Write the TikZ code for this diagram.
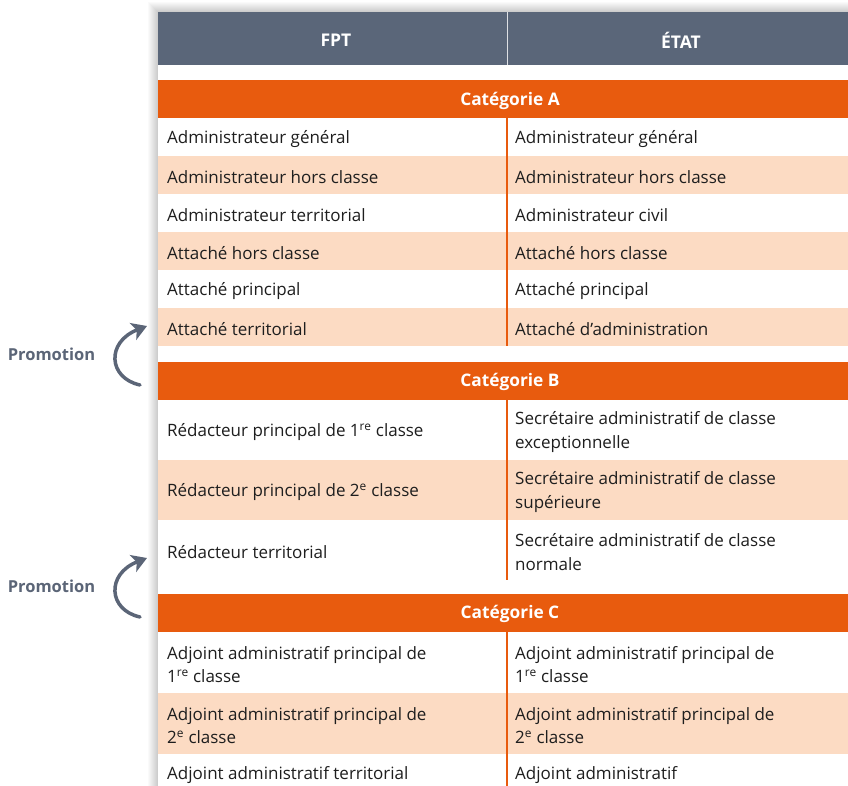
\documentclass[tikz,border=0pt]{standalone}
\usepackage{fontspec}
\setmainfont{Open Sans}
\usetikzlibrary{arrows.meta}

\definecolor{headblue}{HTML}{5A6679}
\definecolor{catorange}{HTML}{E85B0E}
\definecolor{peach}{HTML}{FCDBC3}
\definecolor{promogray}{HTML}{5B6577}
\definecolor{rowgray}{HTML}{E4DCD5}
\definecolor{textdark}{HTML}{1E1E1E}

\tikzset{
  head/.style={text=white, font=\bfseries\fontsize{17.5}{20}\selectfont},
  cat/.style={text=white, font=\bfseries\fontsize{17.3}{20}\selectfont},
  cell/.style={anchor=west, inner sep=0pt, align=left, text=textdark,
    font=\fontsize{17}{23.5}\selectfont},
  promo/.style={text=promogray, font=\bfseries\fontsize{16.5}{19}\selectfont},
  promoarrow/.style={draw=promogray, line width=3.5pt, line cap=round,
    -{Stealth[length=15pt, width=18pt, inset=4pt]}},
  divline/.style={draw=catorange, line width=1.2pt},
  rowline/.style={draw=rowgray, line width=0.8pt}
}

\begin{document}
\begin{tikzpicture}[x=1pt, y=-1pt]
  \useasboundingbox (0,0) rectangle (848,786);
  \clip (0,0) rectangle (848,786);
  \fill[white] (0,0) rectangle (848,786);

  % soft shadow round the table
  \foreach \i in {1,...,10}
    \fill[black, opacity=0.018] (158-\i,12-\i) rectangle (870,800);
  \fill[white] (158,12) rectangle (870,800);

  % header
  \fill[headblue] (158,12) rectangle (870,65);
  \draw[white!80!headblue, line width=1pt] (507,12) -- (507,65);
  \node[head] (fpt) at (336,40) {FPT};
  \node[head] (etat) at (681,40) {ÉTAT};

  % category bars
  \fill[catorange] (158,80) rectangle (870,118);
  \node[cat] (catA) at (510,101) {Catégorie A};
  \fill[catorange] (158,362) rectangle (870,400);
  \node[cat] (catB) at (510,382) {Catégorie B};
  \fill[catorange] (158,594) rectangle (870,632);
  \node[cat] (catC) at (510,614) {Catégorie C};

  % rows
  \foreach \name/\top/\bot/\col/\lft/\rgt in {
      a1/118/156/white/{Administrateur général}/{Administrateur général},
      a2/156/194/peach/{Administrateur hors classe}/{Administrateur hors classe},
      a3/194/232/white/{Administrateur territorial}/{Administrateur civil},
      a4/232/270/peach/{Attaché hors classe}/{Attaché hors classe},
      a5/270/308/white/{Attaché principal}/{Attaché principal},
      a6/308/346/peach/{Attaché territorial}/{Attaché d’administration},
      b1/400/460/white/{Rédacteur principal de 1\textsuperscript{re} classe}/{Secrétaire administratif de classe\\exceptionnelle},
      b2/460/520/peach/{Rédacteur principal de 2\textsuperscript{e} classe}/{Secrétaire administratif de classe\\supérieure},
      b3/520/580/white/{Rédacteur territorial}/{Secrétaire administratif de classe\\normale},
      c1/632/693/white/{Adjoint administratif principal de\\1\textsuperscript{re} classe}/{Adjoint administratif principal de\\1\textsuperscript{re} classe},
      c2/693/754/peach/{Adjoint administratif principal de\\2\textsuperscript{e} classe}/{Adjoint administratif principal de\\2\textsuperscript{e} classe},
      c3/754/792/white/{Adjoint administratif territorial}/{Adjoint administratif}}
  {
    \fill[\col] (158,\top) rectangle (870,\bot);
    \draw[rowline] (158,\bot) -- (870,\bot);
    \node[cell] (\name l) at (167,{(\top+\bot)/2+2}) {\lft};
    \node[cell] (\name r) at (515,{(\top+\bot)/2+2}) {\rgt};
  }
  \fill[white] (158,580.4) rectangle (870,594);
  \fill[white] (158,346.4) rectangle (870,362);

  % column divider
  \draw[divline] (507,118) -- (507,346);
  \draw[divline] (507,400) -- (507,580);
  \draw[divline] (507,632) -- (507,786);

  % promotions
  \node[promo] (promo1) at (51.5,354) {Promotion};
  \coordinate (p1s) at (140,385);
  \coordinate (p1e) at (147,326);
  \draw[promoarrow] (p1s) .. controls (108,378) and (106,342) .. (p1e);

  \node[promo] (promo2) at (51.5,586) {Promotion};
  \coordinate (p2s) at (140,617);
  \coordinate (p2e) at (147,558);
  \draw[promoarrow] (p2s) .. controls (108,610) and (106,574) .. (p2e);
\end{tikzpicture}
\end{document}
